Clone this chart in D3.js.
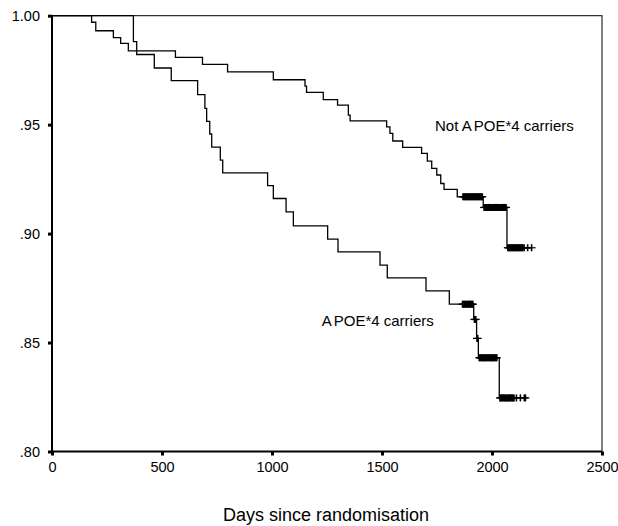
<!DOCTYPE html>
<html>
<head>
<meta charset="utf-8">
<script src="https://cdn.jsdelivr.net/npm/d3@7"></script>
<style>
  body { margin: 0; background: #fff; }
  text { font-family: "Liberation Sans", Arial, sans-serif; fill: #000; }
</style>
</head>
<body>
<div id="km"></div>
<script>
// axis ticks
var xTicks = [0, 500, 1000, 1500, 2000, 2500];
var yTicks = [0.80, 0.85, 0.90, 0.95, 1.00];
var yTickLabels = ['.80', '.85', '.90', '.95', '1.00'];

// Not APOE*4 carriers : event days and survival after each step
var notTimes = [180, 199, 279, 312, 347, 561, 684, 798, 1006, 1150, 1157, 1233, 1298, 1347, 1355,
  1521, 1536, 1549, 1594, 1680, 1706, 1726, 1749, 1767, 1782, 1842, 1960, 2068];
var notSurv = [0.9970, 0.9931, 0.9899, 0.9873, 0.9839, 0.9809, 0.9777, 0.9742, 0.9706, 0.9677, 0.9648,
  0.9615, 0.9590, 0.9544, 0.9517, 0.9490, 0.9460, 0.9425, 0.9396, 0.9368, 0.9333, 0.9299, 0.9269,
  0.9230, 0.9203, 0.9169, 0.9120, 0.8935];
// censored days
var notCensored = [1868, 1872, 1876, 1880, 1884, 1888, 1892, 1896, 1900, 1904, 1908, 1912, 1916, 1920,
  1924, 1928, 1932, 1936, 1940, 1944, 1948, 1952, 1956,
  1964, 1968, 1972, 1976, 1980, 1984, 1988, 1992, 1996, 2000, 2004, 2008, 2012, 2016, 2020, 2024,
  2028, 2032, 2036, 2040, 2044, 2048, 2052, 2056, 2060, 2064,
  2072, 2076, 2080, 2084, 2088, 2092, 2096, 2100, 2104, 2108, 2112, 2116, 2120, 2124, 2128, 2132,
  2136, 2140, 2146, 2162, 2180];

// APOE*4 carriers
var carTimes = [370, 385, 465, 542, 662, 695, 703, 717, 726, 765, 776, 980, 1006, 1064, 1097, 1253,
  1300, 1491, 1524, 1700, 1806, 1917, 1930, 1938, 2033];
var carSurv = [0.9881, 0.9822, 0.9760, 0.9702, 0.9638, 0.9575, 0.9515, 0.9457, 0.9397, 0.9337, 0.9279,
  0.9220, 0.9161, 0.9100, 0.9035, 0.8975, 0.8916, 0.8855, 0.8797, 0.8737, 0.8676, 0.8606, 0.8519,
  0.8430, 0.8246];
var carCensored = [1866, 1870, 1874, 1878, 1882, 1886, 1890, 1894, 1898, 1902, 1906, 1910, 1913,
  1920, 1923, 1926,
  1932, 1935,
  1942, 1946, 1950, 1954, 1958, 1962, 1966, 1970, 1974, 1978, 1982, 1986, 1990, 1994, 1998, 2002,
  2006, 2010, 2014, 2018, 2022,
  2036, 2040, 2044, 2048, 2052, 2056, 2060, 2064, 2068, 2072, 2076, 2080, 2084, 2088, 2092, 2096,
  2100, 2111, 2129, 2147, 2152];

var W = 618, H = 526;
var plotL = 52, plotR = 602, plotT = 15.7, plotB = 451.5;

var svg = d3.select('#km').append('svg').attr('width', W).attr('height', H);
svg.append('rect').attr('width', W).attr('height', H).attr('fill', '#fff');

var x = d3.scaleLinear().domain([0, 2500]).range([plotL, plotR]);
var y = d3.scaleLinear().domain([0.8, 1.0]).range([plotB, plotT]);

// frame
svg.append('rect')
  .attr('x', plotL).attr('y', plotT)
  .attr('width', plotR - plotL).attr('height', plotB - plotT)
  .attr('fill', 'none').attr('stroke', '#000').attr('stroke-width', 1);
svg.append('path')
  .attr('d', 'M' + plotL + ',' + plotT + 'V' + plotB + 'H' + plotR)
  .attr('fill', 'none').attr('stroke', '#000').attr('stroke-width', 2);

// axes
var yAxis = svg.append('g')
  .attr('transform', 'translate(' + plotL + ',0)')
  .call(d3.axisLeft(y).tickValues(yTicks).tickSize(4).tickPadding(8)
    .tickFormat(function(d, i) { return yTickLabels[i]; }));

var xAxis = svg.append('g')
  .attr('transform', 'translate(0,' + plotB + ')')
  .call(d3.axisBottom(x).tickValues(xTicks).tickSize(4).tickPadding(6)
    .tickFormat(d3.format('d')));

[yAxis, xAxis].forEach(function(g) {
  g.select('.domain').remove();
  g.selectAll('.tick line').attr('stroke', '#000').attr('stroke-width', 3);
  g.selectAll('.tick text')
    .style('font-family', '"Liberation Sans", Arial, sans-serif')
    .style('font-size', '14.5px').attr('fill', '#000');
});

// step curves
var line = d3.line()
  .x(function(d) { return x(d[0]); })
  .y(function(d) { return y(d[1]); })
  .curve(d3.curveStepAfter);

function km(times, surv, censored) {
  var pts = [[0, 1]];
  for (var i = 0; i < times.length; i++) pts.push([times[i], surv[i]]);
  var last = d3.max(censored);
  pts.push([last, surv[surv.length - 1]]);

  svg.append('path').attr('d', line(pts))
    .attr('fill', 'none').attr('stroke', '#000').attr('stroke-width', 1.3);

  // level at a censored day
  function level(t) {
    var s = 1;
    for (var i = 0; i < times.length; i++) if (times[i] <= t) s = surv[i];
    return s;
  }

  var g = svg.append('g');
  censored.forEach(function(t) {
    var cx = x(t), cy = y(level(t));
    g.append('line').attr('x1', cx).attr('x2', cx).attr('y1', cy - 3.5).attr('y2', cy + 3.5)
      .attr('stroke', '#000').attr('stroke-width', 1.6);
    g.append('line').attr('x1', cx - 4).attr('x2', cx + 4).attr('y1', cy).attr('y2', cy)
      .attr('stroke', '#000').attr('stroke-width', 1.2);
  });
}

km(notTimes, notSurv, notCensored);
km(carTimes, carSurv, carCensored);

// curve labels
function label(txt1, txt2, d, s) {
  var t = svg.append('text').attr('x', x(d)).attr('y', y(s)).style('font-size', '15px');
  t.append('tspan').text(txt1);
  t.append('tspan').attr('dx', 2).text(txt2);
}
label('Not A', 'POE*4 carriers', 1741, 0.9471);
label('A', 'POE*4 carriers', 1226, 0.8575);

// x title
svg.append('text')
  .attr('x', 326).attr('y', 521)
  .attr('text-anchor', 'middle')
  .style('font-size', '18px')
  .text('Days since randomisation');
</script>
</body>
</html>
